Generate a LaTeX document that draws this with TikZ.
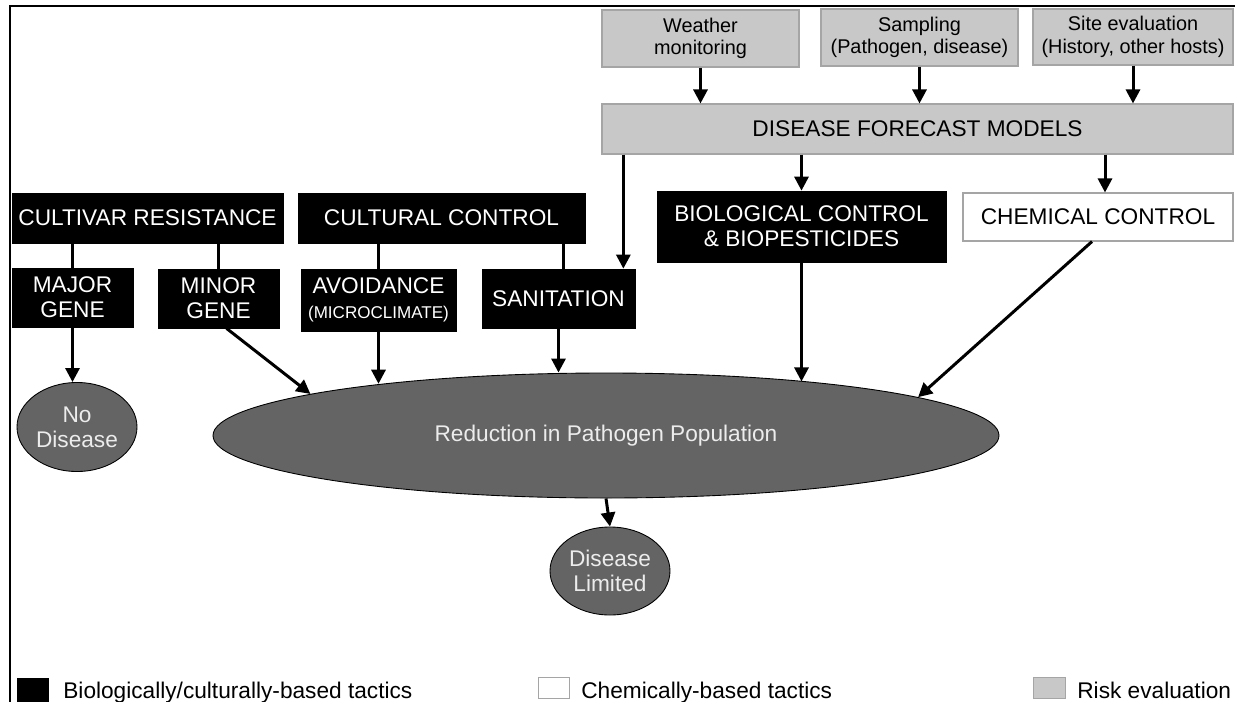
\documentclass[tikz,border=0pt]{standalone}
\usepackage{fontspec}
\setmainfont{Liberation Sans}
\usetikzlibrary{arrows.meta,calc,shapes.geometric}

\definecolor{riskgray}{RGB}{200,200,200}
\definecolor{riskline}{RGB}{165,165,165}
\definecolor{popgray}{RGB}{100,100,100}
\definecolor{poptext}{RGB}{236,236,236}

\begin{document}
\begin{tikzpicture}[x=0.2mm,y=-0.2mm,
	tactic/.style={draw=black,fill=black,text=white,inner sep=0,align=center,font=\fontsize{12.9}{14.2}\selectfont},
	chembox/.style={draw=riskline,line width=.6pt,fill=white,inner sep=0,align=center,font=\fontsize{12.9}{14.2}\selectfont},
	riskbox/.style={draw=riskline,line width=.6pt,fill=riskgray,inner sep=0,align=center,font=\fontsize{11.3}{12.8}\selectfont},
	outcome/.style={ellipse,draw=black,line width=.5pt,fill=popgray,text=poptext,inner sep=0,align=center,font=\fontsize{12.9}{14.2}\selectfont},
	legendtext/.style={anchor=base west,inner sep=0,font=\fontsize{12.9}{14.2}\selectfont},
	link/.style={line width=1.7pt},
	flow/.style={line width=1.7pt,-{Triangle[width=8pt,length=8pt]}}]
\useasboundingbox (0,0) rectangle (1235,702);
\fill[white] (0,0) rectangle (1235,702);
\draw[line width=1.7pt] (10,702)--(10,6)--(1235,6);

\node[riskbox,minimum width=39.4mm,minimum height=11.4mm] (weather) at (700.5,38.5) {Weather\\monitoring};
\node[riskbox,minimum width=39.4mm,minimum height=11.4mm] (sampling) at (919.5,37.5) {Sampling\\(Pathogen, disease)};
\node[riskbox,minimum width=40mm,minimum height=11.2mm] (site) at (1133,37) {Site evaluation\\(History, other hosts)};
\node[riskbox,minimum width=126.2mm,minimum height=10mm,font=\fontsize{12.9}{14.2}\selectfont] (dfm) at (917.5,129) {DISEASE FORECAST MODELS};

\node[tactic,minimum width=54.2mm,minimum height=10mm] (cultivar) at (147.5,218) {CULTIVAR RESISTANCE};
\node[tactic,minimum width=57.4mm,minimum height=10mm] (cultural) at (441.5,218) {CULTURAL CONTROL};
\node[tactic,minimum width=57.8mm,minimum height=14.2mm] (bio) at (801.5,226.5) {BIOLOGICAL CONTROL\\\& BIOPESTICIDES};
\node[chembox,minimum width=54mm,minimum height=9.6mm] (chem) at (1098,217) {CHEMICAL CONTROL};

\node[tactic,minimum width=24.2mm,minimum height=11.8mm] (major) at (72.5,297.5) {MAJOR\\GENE};
\node[tactic,minimum width=24.2mm,minimum height=11.8mm] (minor) at (218.5,298.5) {MINOR\\GENE};
\node[tactic,minimum width=31mm,minimum height=12.4mm] (avoid) at (378.5,300) {AVOIDANCE\\{\fontsize{9.7}{11}\selectfont(MICROCLIMATE)}};
\node[tactic,minimum width=30.6mm,minimum height=11.8mm] (sanit) at (558.5,298.5) {SANITATION};

\node[outcome,minimum width=24mm,minimum height=17.8mm] (nodis) at (77,427) {No\\Disease};
\node[outcome,minimum width=157.2mm,minimum height=25mm] (reduce) at (606,435.5) {Reduction in Pathogen Population};
\node[outcome,minimum width=24mm,minimum height=17.6mm] (limited) at (610,571) {Disease\\Limited};

\coordinate (sanin) at ($(sanit.north east)+(-12,0)$);
\coordinate (sanlink) at ($(sanit.north)+(5,0)$);
\coordinate (chemin) at ($(chem.north)+(7,0)$);

\draw[flow] (weather.south)--(weather.south |- dfm.north);
\draw[flow] (sampling.south)--(sampling.south |- dfm.north);
\draw[flow] (site.south)--(site.south |- dfm.north);
\draw[flow] (sanin |- dfm.south)--(sanin);
\draw[flow] (bio.north |- dfm.south)--(bio.north);
\draw[flow] (chemin |- dfm.south)--(chemin);

\draw[link] (major.north |- cultivar.south)--(major.north);
\draw[link] (minor.north |- cultivar.south)--(minor.north);
\draw[link] (avoid.north |- cultural.south)--(avoid.north);
\draw[link] (sanlink |- cultural.south)--(sanlink);

\draw[flow] (major.south)--(major.south |- nodis.north);
\draw[flow] ($(minor.south)+(8,0)$)--(reduce.172.5);
\draw[flow] (avoid.south)--(avoid.south |- reduce.167.5);
\draw[flow] (sanit.south)--(sanit.south |- reduce.north);
\draw[flow] (bio.south)--(bio.south |- reduce.15);
\draw[flow] ($(chem.south)+(-6,0)$)--(reduce.7);
\draw[flow] (reduce.south)--(limited.north);

\node[fill=black,inner sep=0,minimum width=6.4mm,minimum height=4.8mm,anchor=north west] (bioswatch) at (17,678) {};
\node[legendtext] (biolabel) at (63,698) {Biologically/culturally-based tactics};
\node[draw=riskline,line width=.6pt,fill=white,inner sep=0,minimum width=6.2mm,minimum height=4.2mm,anchor=north west] (chemswatch) at (538,677) {};
\node[legendtext] (chemlabel) at (581,698) {Chemically-based tactics};
\node[draw=riskline,line width=.6pt,fill=riskgray,inner sep=0,minimum width=6.4mm,minimum height=4.2mm,anchor=north west] (riskswatch) at (1033,677) {};
\node[legendtext] (risklabel) at (1077,698) {Risk evaluation};
\end{tikzpicture}
\end{document}
